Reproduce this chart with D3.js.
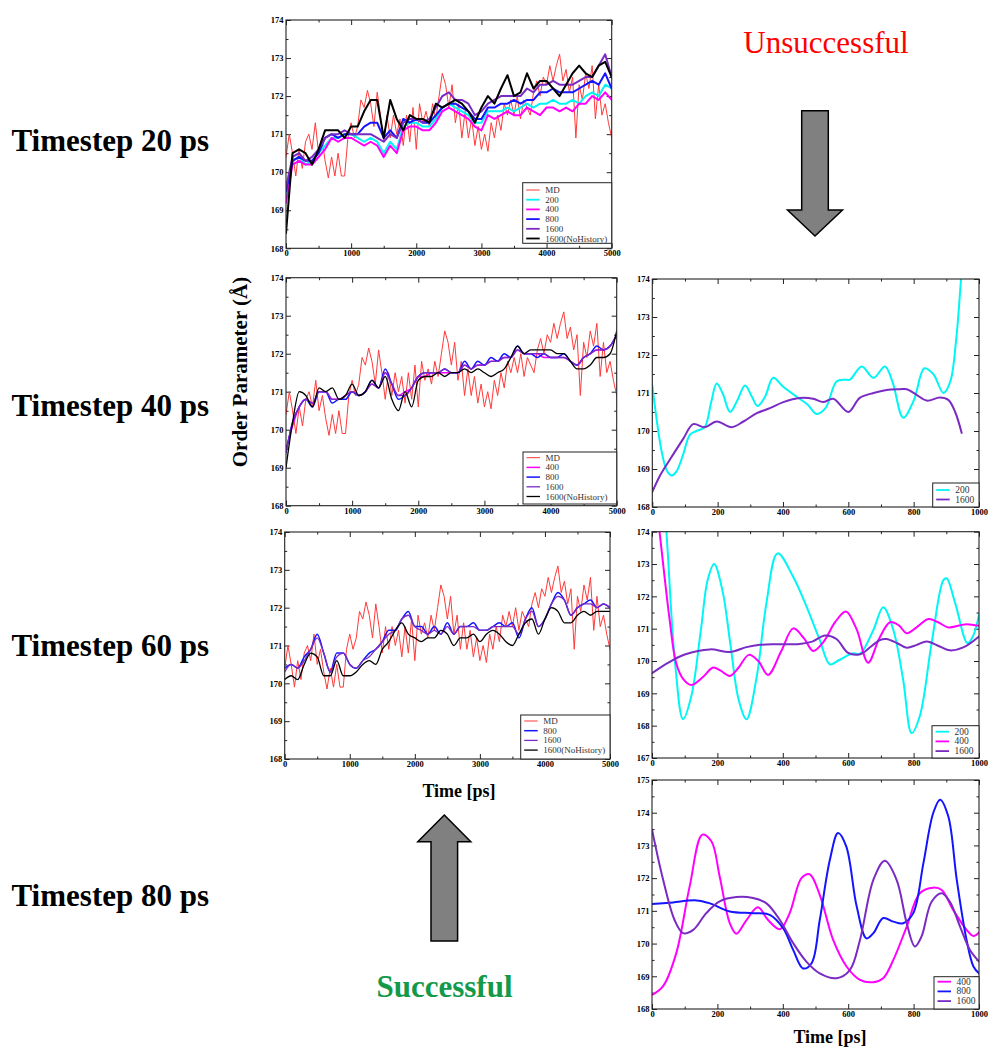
<!DOCTYPE html>
<html><head><meta charset="utf-8">
<script src="https://cdn.jsdelivr.net/npm/d3@7"></script>
<style>
body{margin:0;background:#fff}
svg{display:block}
text{font-family:"Liberation Serif","Times New Roman",serif}
</style>
</head><body>
<svg id="c" width="993" height="1050"></svg>
<script>
// ---------------- DATA ----------------
const rowLabels = ["Timestep 20 ps","Timestep 40 ps","Timestep 60 ps","Timestep 80 ps"];
const yAxisTitle = "Order Parameter (\u00C5)";
const xAxisTitle = "Time [ps]";
const topNote = "Unsuccessful";
const bottomNote = "Successful";

const tMD = d3.range(0, 5001, 50);
const tL = d3.range(0, 5001, 100);

const mdValues = [170.4,171.0,170.5,169.9,170.6,170.1,170.8,171.0,170.6,171.3,
 170.5,170.9,170.3,169.85,170.4,169.9,170.5,169.9,169.9,170.9,
 171.3,170.9,171.2,171.9,171.7,172.15,171.8,171.2,172.1,171.5,
 170.8,171.5,170.9,171.5,171.0,171.4,170.7,171.5,170.8,171.7,
 170.6,171.8,171.3,171.6,171.2,171.8,171.4,172.0,172.6,172.3,
 171.7,172.3,171.3,171.8,170.9,171.6,170.9,171.4,170.7,171.2,
 170.6,171.0,170.55,171.3,170.9,171.5,171.1,171.8,171.5,171.9,
 171.5,172.0,171.4,171.9,171.7,171.5,172.1,172.4,172.0,172.5,
 172.3,172.8,172.4,172.8,173.1,172.4,172.7,172.1,172.5,170.9,
 172.3,171.9,172.6,172.2,172.8,171.4,172.3,171.5,171.8,171.3,170.9];

// Timestep 20 ps (left)
const ts20_200 = [169.3,170.3,170.4,170.2,170.3,170.5,170.7,170.9,170.9,171.0,171.0,170.9,170.8,170.9,170.8,170.5,170.8,170.6,171.2,171.3,171.3,171.2,171.2,171.4,171.7,171.8,171.7,171.6,171.5,171.3,171.3,171.6,171.6,171.6,171.7,171.6,171.7,171.8,171.7,171.8,171.8,171.9,171.8,171.8,171.9,171.8,172.0,172.1,172.0,172.3,172.2];
const ts20_400 = [169.2,170.2,170.3,170.2,170.2,170.4,170.6,170.9,170.8,170.9,170.9,170.8,170.7,170.8,170.7,170.4,170.7,170.5,171.1,171.2,171.2,171.1,171.1,171.3,171.6,171.7,171.6,171.5,171.4,171.2,171.1,171.5,171.4,171.5,171.6,171.5,171.5,171.7,171.6,171.5,171.7,171.7,171.6,171.7,171.6,171.8,171.8,172.0,171.9,172.1,171.9];
const ts20_800 = [169.5,170.3,170.4,170.3,170.3,170.5,170.9,171.0,170.9,171.0,171.0,171.0,171.2,171.3,171.3,170.9,171.1,170.9,171.4,171.3,171.4,171.3,171.3,171.5,171.7,171.8,171.8,171.7,171.6,171.4,171.4,171.7,171.7,171.8,171.8,171.9,171.8,171.9,171.9,172.1,172.1,172.2,172.1,172.1,172.1,172.2,172.3,172.4,172.3,172.6,172.2];
const ts20_1600 = [169.6,170.4,170.5,170.3,170.4,170.6,170.9,171.0,171.0,171.1,171.0,171.0,171.0,171.0,170.9,170.8,171.0,170.9,171.3,171.4,171.4,171.3,171.4,171.7,172.0,172.1,171.9,171.9,171.8,171.5,171.6,171.8,171.9,172.0,172.0,172.0,172.0,172.2,172.1,172.3,172.3,172.4,172.3,172.3,172.3,172.4,172.5,172.5,172.8,173.1,172.5];
const ts20_noHist = [168.4,170.5,170.6,170.5,170.2,170.6,171.1,171.1,171.1,170.9,171.2,171.2,171.6,171.9,171.9,170.9,171.9,171.4,171.1,171.5,171.4,171.4,171.3,171.8,171.7,171.8,171.9,171.8,171.6,171.3,171.7,172.0,171.8,172.2,172.55,172.0,172.1,172.6,172.2,172.4,172.4,172.2,172.0,172.3,172.6,172.8,172.6,172.5,172.8,172.9,172.5];

// Timestep 40 ps (left)
const ts40_400 = [169.5,170.1,170.6,170.8,170.7,171.0,171.0,170.8,170.8,170.9,171.0,170.9,171.0,171.2,171.1,171.5,171.2,170.9,171.0,171.1,171.4,171.4,171.5,171.5,171.5,171.5,171.5,171.7,171.6,171.7,171.7,171.8,171.8,171.9,171.9,172.1,172.0,172.0,172.0,171.9,171.9,171.9,171.9,171.8,171.7,171.9,172.0,172.1,172.1,172.2,172.5];
const ts40_800 = [169.4,170.2,170.6,170.8,170.6,171.0,171.0,170.7,170.8,170.8,171.0,170.9,171.0,171.3,171.1,171.6,171.2,170.8,170.9,171.1,171.4,171.5,171.5,171.5,171.6,171.5,171.5,171.8,171.6,171.8,171.7,171.9,171.8,172.0,171.9,172.2,172.0,172.0,171.9,172.0,171.9,171.9,172.0,171.8,171.7,171.9,172.0,172.2,172.1,172.2,172.5];
const ts40_1600 = [169.4,170.2,170.6,170.8,170.7,171.0,171.0,170.8,170.8,170.9,171.0,170.9,171.0,171.2,171.1,171.5,171.2,170.9,170.9,171.1,171.4,171.5,171.5,171.5,171.6,171.5,171.5,171.7,171.6,171.7,171.7,171.8,171.8,171.9,171.9,172.1,172.0,172.0,172.0,172.0,171.9,171.9,171.9,171.8,171.7,171.9,172.0,172.1,172.1,172.2,172.5];
const ts40_noHist = [169.0,170.2,171.0,170.9,170.6,171.1,171.0,171.1,170.8,170.9,171.2,170.9,171.0,171.3,171.1,171.4,170.8,170.5,171.0,170.6,171.3,171.4,171.4,171.5,171.4,171.5,171.5,171.6,171.5,171.6,171.5,171.4,171.5,171.6,171.9,172.2,172.0,172.1,172.1,172.1,172.1,172.0,172.0,171.8,171.6,171.6,171.7,171.9,171.9,172.0,172.6];

// Timestep 60 ps (left)
const ts60_800 = [170.4,170.5,170.4,170.7,170.9,171.3,170.8,170.3,170.8,170.8,170.5,170.4,170.6,170.8,170.9,171.1,171.4,171.4,171.7,171.9,171.5,171.5,171.3,171.5,171.3,171.6,171.3,171.5,171.5,171.6,171.4,171.4,171.5,171.6,171.5,171.6,171.2,171.7,172.0,171.5,171.7,172.1,172.4,172.2,171.8,172.0,172.1,172.2,172.0,172.1,172.0];
const ts60_1600 = [170.3,170.5,170.4,170.6,170.9,171.2,170.8,170.3,170.7,170.8,170.5,170.4,170.6,170.7,170.9,171.1,171.3,171.4,171.7,171.8,171.5,171.4,171.3,171.4,171.3,171.5,171.3,171.5,171.5,171.5,171.4,171.4,171.5,171.5,171.5,171.5,171.3,171.7,171.9,171.5,171.7,172.1,172.3,172.2,171.8,172.0,172.1,172.1,172.0,172.1,172.0];
const ts60_noHist = [170.1,170.2,170.1,170.5,170.8,170.7,170.2,170.2,170.6,170.2,170.2,170.3,170.5,170.6,170.5,170.9,171.1,171.4,171.6,171.3,171.2,171.1,171.2,171.2,171.4,171.3,171.0,171.2,171.2,171.3,171.1,171.3,171.4,171.3,171.1,171.0,171.3,171.6,171.7,171.3,171.7,172.0,171.9,171.6,171.6,171.8,171.9,171.8,171.9,171.9,171.9];

// Timestep 40 ps (right)
const r40_t200 = [0,15,30,45,60,75,95,115,135,160,180,197,215,238,260,284,305,322,345,370,400,442,475,503,530,564,590,605,641,677,712,735,768,800,833,860,891,912,930,945,955];
const r40_v200 = [171.2,170.2,169.4,168.95,168.83,168.95,169.4,169.9,170.0,170.1,170.75,171.25,171.0,170.5,170.8,171.2,170.9,170.66,170.9,171.4,171.17,170.9,170.7,170.45,170.6,171.3,171.35,171.35,171.7,171.4,171.7,171.3,170.35,170.8,171.65,171.5,171.0,171.3,172.4,174.0,175.2];
const r40_t1600 = [0,25,54,95,125,161,197,243,279,320,360,401,452,492,523,554,600,635,677,717,758,779,809,840,880,906,927,947];
const r40_v1600 = [168.4,168.85,169.25,169.8,170.18,170.1,170.25,170.1,170.25,170.47,170.6,170.76,170.87,170.85,170.76,170.85,170.5,170.87,171.0,171.08,171.1,171.1,170.95,170.8,170.88,170.82,170.5,169.95];

// Timestep 60 ps (right)
const r60_t200 = [0,20,44,70,95,120,150,170,190,215,240,265,289,320,350,384,432,472,513,544,574,615,636,677,707,738,768,794,819,855,891,901,927,965,983,1000];
const r60_v200 = [180,177,174,170.0,168.2,168.9,171.0,172.5,173.0,172.2,170.5,168.8,168.2,169.5,171.8,173.33,172.6,171.7,170.65,169.9,170.04,170.24,170.22,170.96,171.66,170.96,169.42,167.77,168.3,170.55,172.5,172.56,171.8,170.55,170.8,171.43];
const r60_t400 = [0,23,54,74,95,120,155,187,210,238,265,296,325,355,395,432,465,493,525,560,593,625,661,695,728,755,779,810,845,875,906,940,962,1000];
const r60_v400 = [176,174.0,171.27,169.93,169.45,169.26,169.5,169.8,169.7,169.54,169.8,170.19,170.0,169.57,170.3,171.01,170.7,170.31,170.6,171.2,171.53,171.0,169.95,170.7,171.2,171.1,170.86,171.05,171.3,171.2,171.04,171.1,171.14,171.09];
const r60_t1600 = [0,50,100,177,238,289,330,380,452,490,529,564,600,636,670,697,717,750,779,810,840,880,911,952,1000];
const r60_v1600 = [169.62,169.95,170.2,170.36,170.28,170.43,170.5,170.52,170.53,170.6,170.79,170.68,170.25,170.21,170.45,170.65,170.68,170.55,170.41,170.5,170.6,170.45,170.33,170.42,170.76];

// Timestep 80 ps (right)
const r80_t400 = [0,34,74,115,154,182,207,238,258,289,324,355,391,421,457,482,513,554,595,636,677,707,738,779,819,860,886,921,962,983,1000];
const r80_v400 = [168.43,168.7,169.7,171.74,173.33,173.12,172.05,170.62,170.3,170.72,171.11,170.72,170.44,170.93,172.0,172.12,171.49,170.11,169.3,168.89,168.82,168.94,169.5,170.52,171.54,171.71,171.64,171.03,170.42,170.23,170.34];
const r80_t800 = [0,54,136,177,238,309,360,401,432,462,488,513,544,569,594,626,656,677,707,738,768,799,830,860,881,906,932,962,983,1000];
const r80_v800 = [171.21,171.25,171.32,171.23,170.98,170.93,170.88,170.47,169.8,169.24,169.4,170.72,172.56,173.38,172.97,171.13,170.16,170.32,170.78,170.67,170.62,170.93,172.46,173.99,174.4,173.89,171.95,170.11,169.3,169.09];
const r80_t1600 = [0,34,69,95,126,166,207,258,309,350,391,432,472,513,564,605,636,677,712,748,779,804,824,855,886,911,942,972,1000];
const r80_v1600 = [173.48,171.95,170.72,170.32,170.42,170.93,171.29,171.42,171.39,171.23,170.72,170.01,169.45,169.09,168.94,169.19,170.11,171.95,172.53,171.95,170.62,169.91,170.21,171.28,171.54,171.28,170.52,169.81,169.45];

// ---------------- STYLE / LAYOUT ----------------
const C = {md:"#ff3a3a", c200:"#00f5f5", c400:"#ff00ff", c800:"#1414ff", c1600:"#7a2bc4", nh:"#000000"};

const panels = [
 {id:"a", box:[286,20,611.7,248.3], xDom:[0,5000], yDom:[168,174], xMaj:1000, xMin:500, curve:d3.curveLinear,
  leg:[522.7,182.7,611.7,243.3], legFirst:190, legStep:9.7, legFont:9,
  series:[
   {name:"MD", t:tMD, v:mdValues, c:C.md, w:1.0},
   {name:"200", t:tL, v:ts20_200, c:C.c200, w:2},
   {name:"400", t:tL, v:ts20_400, c:C.c400, w:2},
   {name:"800", t:tL, v:ts20_800, c:C.c800, w:2},
   {name:"1600", t:tL, v:ts20_1600, c:C.c1600, w:2},
   {name:"1600(NoHistory)", t:tL, v:ts20_noHist, c:C.nh, w:2}]},
 {id:"b", box:[286,277.7,616.7,505.7], xDom:[0,5000], yDom:[168,174], xMaj:1000, xMin:500, curve:d3.curveMonotoneX,
  leg:[523,452,616.7,504], legFirst:457.7, legStep:9.7, legFont:9,
  series:[
   {name:"MD", t:tMD, v:mdValues, c:C.md, w:1.0, curve:d3.curveLinear},
   {name:"400", t:tL, v:ts40_400, c:C.c400, w:1.5},
   {name:"800", t:tL, v:ts40_800, c:C.c800, w:1.5},
   {name:"1600", t:tL, v:ts40_1600, c:C.c1600, w:1.3},
   {name:"1600(NoHistory)", t:tL, v:ts40_noHist, c:C.nh, w:1.3}]},
 {id:"c", box:[284.7,532,610,759], xDom:[0,5000], yDom:[168,174], xMaj:1000, xMin:500, curve:d3.curveMonotoneX,
  leg:[520.7,715,610,759], legFirst:721, legStep:9.7, legFont:9,
  series:[
   {name:"MD", t:tMD, v:mdValues, c:C.md, w:1.0, curve:d3.curveLinear},
   {name:"800", t:tL, v:ts60_800, c:C.c800, w:1.5},
   {name:"1600", t:tL, v:ts60_1600, c:C.c1600, w:1.3},
   {name:"1600(NoHistory)", t:tL, v:ts60_noHist, c:C.nh, w:1.3}]},
 {id:"d", box:[652.3,279,979,507], xDom:[0,1000], yDom:[168,174], xMaj:200, xMin:100, curve:d3.curveCatmullRom.alpha(0.5),
  leg:[932.7,483,979,507], legFirst:490, legStep:9.5, legFont:9.5,
  series:[
   {name:"200", t:r40_t200, v:r40_v200, c:C.c200, w:2},
   {name:"1600", t:r40_t1600, v:r40_v1600, c:C.c1600, w:2}]},
 {id:"e", box:[652,531.7,979,758], xDom:[0,1000], yDom:[167,174], xMaj:200, xMin:100, curve:d3.curveCatmullRom.alpha(0.5),
  leg:[932,725.7,979,758], legFirst:731.7, legStep:9.7, legFont:9.5,
  series:[
   {name:"200", t:r60_t200, v:r60_v200, c:C.c200, w:2},
   {name:"400", t:r60_t400, v:r60_v400, c:C.c400, w:2},
   {name:"1600", t:r60_t1600, v:r60_v1600, c:C.c1600, w:2}]},
 {id:"f", box:[652,780,979,1009], xDom:[0,1000], yDom:[168,175], xMaj:200, xMin:100, curve:d3.curveCatmullRom.alpha(0.5),
  leg:[934,976.7,979,1009], legFirst:981.7, legStep:9.7, legFont:9.5,
  series:[
   {name:"400", t:r80_t400, v:r80_v400, c:C.c400, w:2},
   {name:"800", t:r80_t800, v:r80_v800, c:C.c800, w:2},
   {name:"1600", t:r80_t1600, v:r80_v1600, c:C.c1600, w:2}]}
];

// ---------------- DRAW ----------------
const svg = d3.select("#c");
const defs = svg.append("defs");

function styleAxis(g){
  g.select(".domain").remove();
  g.selectAll(".tick line").attr("stroke","#222").attr("stroke-width",1);
  g.selectAll("text").attr("font-family","'Liberation Serif','Times New Roman',serif")
   .attr("font-size",8.5).attr("font-weight","bold").attr("fill","#000");
}

panels.forEach(p=>{
  const [x0,y0,x1,y1] = p.box;
  const x = d3.scaleLinear().domain(p.xDom).range([x0,x1]);
  const y = d3.scaleLinear().domain(p.yDom).range([y1,y0]);
  const g = svg.append("g");

  defs.append("clipPath").attr("id","clip"+p.id).append("rect")
    .attr("x",x0).attr("y",y0).attr("width",x1-x0).attr("height",y1-y0);

  const xMajors = d3.range(p.xDom[0], p.xDom[1]+1e-9, p.xMaj);
  const xMinors = d3.range(p.xDom[0], p.xDom[1]+1e-9, p.xMin).filter(v=>Math.abs((v/p.xMaj)-Math.round(v/p.xMaj))>1e-6);
  const yMajors = d3.range(p.yDom[0], p.yDom[1]+1e-9, 1);
  const yMinors = d3.range(p.yDom[0]+0.5, p.yDom[1], 1);

  g.append("g").attr("transform",`translate(0,${y1})`)
   .call(d3.axisBottom(x).tickValues(xMajors).tickSize(-5).tickSizeOuter(0).tickPadding(2).tickFormat(d3.format("d"))).call(styleAxis);
  g.append("g").attr("transform",`translate(0,${y1})`)
   .call(d3.axisBottom(x).tickValues(xMinors).tickSize(-2.5).tickSizeOuter(0).tickFormat("")).call(styleAxis);
  g.append("g").attr("transform",`translate(0,${y0})`)
   .call(d3.axisTop(x).tickValues(xMajors).tickSize(-5).tickSizeOuter(0).tickFormat("")).call(styleAxis);
  g.append("g").attr("transform",`translate(0,${y0})`)
   .call(d3.axisTop(x).tickValues(xMinors).tickSize(-2.5).tickSizeOuter(0).tickFormat("")).call(styleAxis);
  g.append("g").attr("transform",`translate(${x0},0)`)
   .call(d3.axisLeft(y).tickValues(yMajors).tickSize(-5).tickSizeOuter(0).tickPadding(2.5).tickFormat(d3.format("d"))).call(styleAxis);
  g.append("g").attr("transform",`translate(${x0},0)`)
   .call(d3.axisLeft(y).tickValues(yMinors).tickSize(-2.5).tickSizeOuter(0).tickFormat("")).call(styleAxis);
  g.append("g").attr("transform",`translate(${x1},0)`)
   .call(d3.axisRight(y).tickValues(yMajors).tickSize(-5).tickSizeOuter(0).tickFormat("")).call(styleAxis);
  g.append("g").attr("transform",`translate(${x1},0)`)
   .call(d3.axisRight(y).tickValues(yMinors).tickSize(-2.5).tickSizeOuter(0).tickFormat("")).call(styleAxis);

  const sg = g.append("g").attr("clip-path",`url(#clip${p.id})`);
  p.series.forEach(s=>{
    const line = d3.line().x(d=>x(d[0])).y(d=>y(d[1])).curve(s.curve || p.curve);
    sg.append("path").datum(d3.zip(s.t, s.v)).attr("d",line)
      .attr("fill","none").attr("stroke",s.c).attr("stroke-width",s.w)
      .attr("stroke-linejoin","round").attr("stroke-linecap","round");
  });

  g.append("rect").attr("x",x0).attr("y",y0).attr("width",x1-x0).attr("height",y1-y0)
   .attr("fill","none").attr("stroke","#222").attr("stroke-width",1.1);

  const [lx0,ly0,lx1,ly1] = p.leg;
  const lg = g.append("g");
  lg.append("rect").attr("x",lx0).attr("y",ly0).attr("width",lx1-lx0).attr("height",ly1-ly0)
    .attr("fill","#fff").attr("stroke","#222").attr("stroke-width",1);
  p.series.forEach((s,i)=>{
    const yy = p.legFirst + i*p.legStep;
    lg.append("line").attr("x1",lx0+3.5).attr("x2",lx0+17).attr("y1",yy).attr("y2",yy)
      .attr("stroke",s.c).attr("stroke-width",Math.min(s.w,1.8));
    lg.append("text").attr("x",lx0+22.5).attr("y",yy+3).attr("font-size",p.legFont)
      .attr("fill","#333").text(s.name);
  });
});

const rowBaselines = [151, 416, 656, 906];
rowLabels.forEach((t,i)=>{
  svg.append("text").attr("x",11.5).attr("y",rowBaselines[i])
    .attr("font-size",31).attr("font-weight","bold").attr("fill","#000").text(t);
});

svg.append("text").attr("transform","translate(247,372) rotate(-90)")
  .attr("text-anchor","middle").attr("font-size",21).attr("font-weight","bold").attr("fill","#000").text(yAxisTitle);

svg.append("text").attr("x",459).attr("y",797).attr("text-anchor","middle")
  .attr("font-size",18).attr("font-weight","bold").attr("fill","#000").text(xAxisTitle);
svg.append("text").attr("x",830).attr("y",1043).attr("text-anchor","middle")
  .attr("font-size",18).attr("font-weight","bold").attr("fill","#000").text(xAxisTitle);

svg.append("text").attr("x",826).attr("y",53).attr("text-anchor","middle")
  .attr("font-size",31).attr("fill","#ff0000").text(topNote);
svg.append("text").attr("x",444.5).attr("y",997).attr("text-anchor","middle")
  .attr("font-size",31).attr("font-weight","bold").attr("fill","#13994a").text(bottomNote);

function arrow(tipX, tipY, headBaseY, headHalf, shaftHalf, tailY){
  const pts = [[tipX,tipY],[tipX+headHalf,headBaseY],[tipX+shaftHalf,headBaseY],[tipX+shaftHalf,tailY],
               [tipX-shaftHalf,tailY],[tipX-shaftHalf,headBaseY],[tipX-headHalf,headBaseY]];
  svg.append("path").attr("d","M"+pts.map(p=>p.join(",")).join("L")+"Z")
    .attr("fill","#808080").attr("stroke","#000").attr("stroke-width",1.5).attr("stroke-linejoin","miter");
}
arrow(815, 236, 210, 27.5, 13.3, 110.7);
arrow(444.3, 815, 841.7, 26.5, 13.3, 941);
</script>
</body></html>
